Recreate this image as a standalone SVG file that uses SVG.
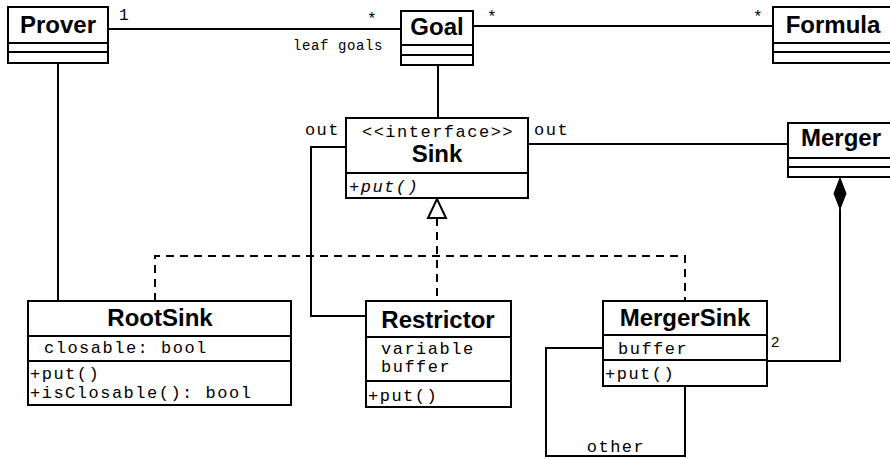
<svg xmlns="http://www.w3.org/2000/svg" width="890" height="459" viewBox="0 0 890 459">
<style>
.box{fill:#fff;stroke:#000;stroke-width:2}
.ln{fill:none;stroke:#000;stroke-width:2}
.dash{fill:none;stroke:#000;stroke-width:2;stroke-dasharray:8 6}
.name{font-family:"Liberation Sans",Arial,sans-serif;font-weight:bold;font-size:24px;text-anchor:middle}
.mono{font-family:"Liberation Mono","Courier New",monospace;font-size:17px;letter-spacing:1.5px}
.small{font-family:"Liberation Mono","Courier New",monospace;font-size:14px;letter-spacing:0.6px}
.sans{font-family:"Liberation Sans",Arial,sans-serif;font-size:15px}
</style>
<rect width="890" height="459" fill="#fff"/>
<g id="connectors">
<line class="ln" x1="108" y1="29" x2="401" y2="29"/>
<line class="ln" x1="473" y1="26" x2="773" y2="26"/>
<line class="ln" x1="58" y1="63" x2="58" y2="301"/>
<line class="ln" x1="438" y1="65" x2="438" y2="118"/>
<polyline class="ln" points="346,147 311,147 311,316 366,316"/>
<line class="ln" x1="528" y1="144" x2="788" y2="144"/>
<polyline class="ln" points="840,209 840,361 767,361"/>
<polygon points="840,178 846,193.5 840,209 834,193.5" fill="#000" stroke="#000" stroke-width="1"/>
<polyline class="dash" points="155,301 155,256 685,256 685,301"/>
<line class="dash" x1="437" y1="218" x2="437" y2="301"/>
<polygon points="437,199 428,218 446,218" fill="#fff" stroke="#000" stroke-width="2"/>
<polyline class="ln" points="603,348 546,348 546,456 685,456 685,386"/>
<text class="mono" x="119" y="20" style="font-size:16px">1</text>
<text class="small" x="367" y="24" style="font-size:16px">*</text>
<text class="small" x="383" y="50" text-anchor="end">leaf goals</text>
<text class="small" x="487" y="22" style="font-size:16px">*</text>
<text class="small" x="753" y="22" style="font-size:16px">*</text>
<text class="mono" x="340" y="135" text-anchor="end">out</text>
<text class="mono" x="534" y="135">out</text>
<text class="sans" x="771" y="347">2</text>
<text class="mono" x="616" y="452" text-anchor="middle">other</text>
</g>
<g id="Prover">
<rect class="box" x="8" y="7" width="100" height="56"/>
<line class="ln" x1="8" y1="43" x2="108" y2="43"/>
<line class="ln" x1="8" y1="52" x2="108" y2="52"/>
<text class="name" x="58" y="33">Prover</text>
</g>
<g id="Goal">
<rect class="box" x="401" y="11" width="72" height="54"/>
<line class="ln" x1="401" y1="45" x2="473" y2="45"/>
<line class="ln" x1="401" y1="55" x2="473" y2="55"/>
<text class="name" x="437" y="35">Goal</text>
</g>
<g id="Formula">
<rect class="box" x="773" y="7" width="120" height="56"/>
<line class="ln" x1="773" y1="43" x2="893" y2="43"/>
<line class="ln" x1="773" y1="52" x2="893" y2="52"/>
<text class="name" x="833" y="33">Formula</text>
</g>
<g id="Sink">
<rect class="box" x="346" y="118" width="182" height="80"/>
<line class="ln" x1="346" y1="173" x2="528" y2="173"/>
<text class="mono" x="438" y="137" text-anchor="middle">&lt;&lt;interface&gt;&gt;</text>
<text class="name" x="437" y="162">Sink</text>
<text class="mono" x="349" y="192" font-style="italic">+put()</text>
</g>
<g id="Merger">
<rect class="box" x="788" y="123" width="105" height="54"/>
<line class="ln" x1="788" y1="158" x2="893" y2="158"/>
<line class="ln" x1="788" y1="167" x2="893" y2="167"/>
<text class="name" x="841" y="146">Merger</text>
</g>
<g id="RootSink">
<rect class="box" x="28" y="301" width="263" height="104"/>
<line class="ln" x1="28" y1="336" x2="291" y2="336"/>
<line class="ln" x1="28" y1="361" x2="291" y2="361"/>
<text class="name" x="160" y="326">RootSink</text>
<text class="mono" x="44" y="353">closable: bool</text>
<text class="mono" x="30" y="379">+put()</text>
<text class="mono" x="30" y="398">+isClosable(): bool</text>
</g>
<g id="Restrictor">
<rect class="box" x="366" y="301" width="145" height="106"/>
<line class="ln" x1="366" y1="337" x2="511" y2="337"/>
<line class="ln" x1="366" y1="381" x2="511" y2="381"/>
<text class="name" x="438" y="328">Restrictor</text>
<text class="mono" x="381" y="354">variable</text>
<text class="mono" x="381" y="372">buffer</text>
<text class="mono" x="368" y="401">+put()</text>
</g>
<g id="MergerSink">
<rect class="box" x="603" y="301" width="164" height="85"/>
<line class="ln" x1="603" y1="335" x2="767" y2="335"/>
<line class="ln" x1="603" y1="360" x2="767" y2="360"/>
<text class="name" x="685" y="326">MergerSink</text>
<text class="mono" x="618" y="354">buffer</text>
<text class="mono" x="605" y="379">+put()</text>
</g>
</svg>
